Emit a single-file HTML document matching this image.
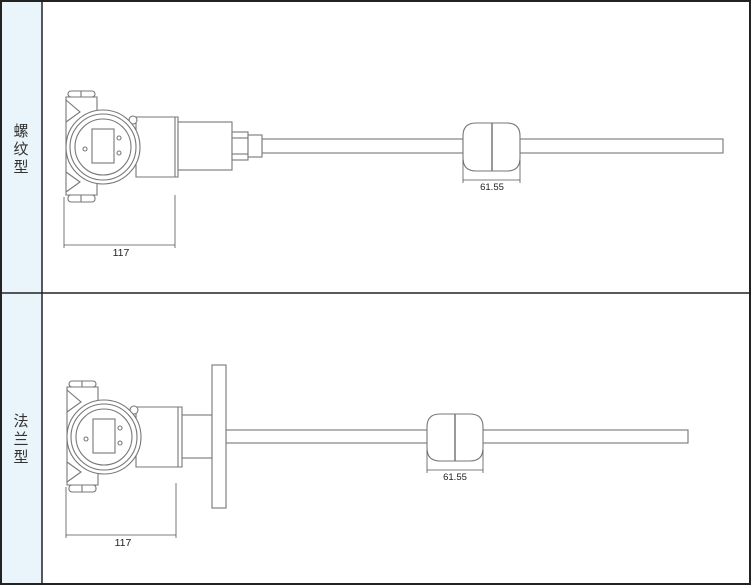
<!DOCTYPE html>
<html><head><meta charset="utf-8"><style>
html,body{margin:0;padding:0;background:#fff}
svg{display:block}
</style></head><body>
<svg width="752" height="585" viewBox="0 0 752 585" xmlns="http://www.w3.org/2000/svg" font-family="Liberation Sans, Noto Sans CJK SC, sans-serif">
<rect x="0" y="0" width="752" height="585" fill="#fff"/>
<rect x="1" y="1" width="41" height="583" fill="#eaf4fb"/>
<rect x="1" y="1" width="749" height="583" fill="none" stroke="#222" stroke-width="2"/>
<line x1="42" y1="1" x2="42" y2="584" stroke="#222" stroke-width="1.5"/>
<line x1="1" y1="293" x2="750" y2="293" stroke="#222" stroke-width="1.5"/>
<g font-family="Liberation Sans, Noto Sans CJK SC, sans-serif" font-size="15" fill="#333" text-anchor="middle">
<text x="21" y="136">螺</text><text x="21" y="154">纹</text><text x="21" y="172">型</text>
<text x="21" y="426">法</text><text x="21" y="444">兰</text><text x="21" y="462">型</text>
</g>
<defs>
<g id="hous" fill="#fff" stroke="#777" stroke-width="1.1">
<path d="M66,97 L97,97 L97,195 L66,195 Z"/>
<path d="M66,100 L80,112 L66,122 M66,172 L80,182 L66,192" fill="none"/>
<rect x="68" y="91" width="27" height="6" rx="3"/>
<rect x="68" y="195" width="27" height="7" rx="3"/>
<line x1="81" y1="91" x2="81" y2="97"/><line x1="81" y1="195" x2="81" y2="202"/>
<circle cx="133" cy="120" r="4"/>
<circle cx="103" cy="147" r="37"/>
<circle cx="103" cy="147" r="33" fill="none"/>
<circle cx="103" cy="147" r="28"/>
<rect x="92" y="129" width="22" height="34"/>
<circle cx="85" cy="149" r="2" fill="none"/>
<circle cx="119" cy="138" r="2" fill="none"/>
<circle cx="119" cy="153" r="2" fill="none"/>
</g>
</defs>
<g fill="#fff" stroke="#777" stroke-width="1.1">
<rect x="463" y="139" width="260" height="14"/>
<rect x="262" y="139" width="201" height="14"/>
<path d="M136,117 L178,117 L178,177 L136,177 Z"/>
<line x1="175" y1="117" x2="175" y2="177"/>
<rect x="178" y="122" width="54" height="48"/>
<rect x="232" y="132" width="16" height="28"/>
<line x1="232" y1="138" x2="248" y2="138"/><line x1="232" y1="154" x2="248" y2="154"/>
<rect x="248" y="135" width="14" height="22"/>
<path d="M476,123 L507,123 Q520,123 520,136 L520,158 Q520,171 507,171 L476,171 Q463,171 463,158 L463,136 Q463,123 476,123 Z"/>
<line x1="492" y1="123" x2="492" y2="171" stroke-width="1.5"/>
</g>
<use href="#hous"/>
<g stroke="#555" stroke-width="0.8" fill="none">
<line x1="64" y1="197" x2="64" y2="248"/><line x1="175" y1="195" x2="175" y2="248"/>
<line x1="64" y1="245" x2="175" y2="245"/>
<line x1="463" y1="160" x2="463" y2="183"/><line x1="520" y1="160" x2="520" y2="183"/>
<line x1="463" y1="180" x2="520" y2="180"/>
</g>
<text x="121" y="256" font-size="10.5" fill="#222" text-anchor="middle">117</text>
<text x="492" y="190" font-size="9.5" fill="#222" text-anchor="middle">61.55</text>
<g fill="#fff" stroke="#777" stroke-width="1.1">
<rect x="226" y="430" width="462" height="13"/>
<path d="M136,407 L182,407 L182,467 L136,467 Z"/>
<line x1="178" y1="407" x2="178" y2="467"/>
<rect x="182" y="415" width="30" height="43"/>
<rect x="212" y="365" width="14" height="143"/>
<path d="M440,414 L470,414 Q483,414 483,427 L483,448 Q483,461 470,461 L440,461 Q427,461 427,448 L427,427 Q427,414 440,414 Z"/>
<line x1="455" y1="414" x2="455" y2="461" stroke-width="1.5"/>
</g>
<use href="#hous" transform="translate(1,290)"/>
<g stroke="#555" stroke-width="0.8" fill="none">
<line x1="66" y1="487" x2="66" y2="538"/><line x1="176" y1="483" x2="176" y2="538"/>
<line x1="66" y1="535" x2="176" y2="535"/>
<line x1="427" y1="450" x2="427" y2="473"/><line x1="483" y1="450" x2="483" y2="473"/>
<line x1="427" y1="470" x2="483" y2="470"/>
</g>
<text x="123" y="546" font-size="10.5" fill="#222" text-anchor="middle">117</text>
<text x="455" y="480" font-size="9.5" fill="#222" text-anchor="middle">61.55</text>
</svg>
</body></html>
